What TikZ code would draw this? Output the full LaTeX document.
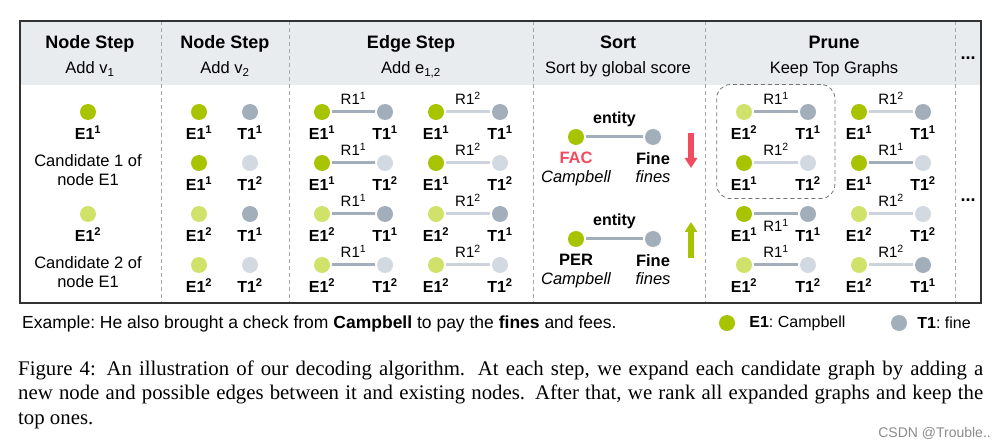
\documentclass[tikz,border=0pt]{standalone}
\usepackage{fontspec}
\setmainfont{Liberation Sans}
\newfontfamily\capfont{Liberation Serif}
\usepackage{xcolor}
\usetikzlibrary{arrows.meta,positioning,fit}

\definecolor{egreen}{HTML}{A8C300}
\definecolor{lgreen}{HTML}{D1E26B}
\definecolor{tgray}{HTML}{A3AEBB}
\definecolor{lgray}{HTML}{D3D9E1}
\definecolor{ledge}{HTML}{CDD3DC}
\definecolor{headfill}{HTML}{E9ECEF}
\definecolor{facred}{HTML}{F24A5F}

\begin{document}
\begin{tikzpicture}[
  x=1pt, y=-1pt,
  node distance=7pt,
  dot/.style={circle, inner sep=0pt, minimum size=16pt},
  ent1/.style={dot, fill=egreen},
  ent2/.style={dot, fill=lgreen},
  tgt1/.style={dot, fill=tgray},
  tgt2/.style={dot, fill=lgray},
  lab/.style={font=\bfseries\fontsize{16}{16}\selectfont, inner sep=0pt,
              text height=12pt, text depth=0pt},
  rel/.style={font=\fontsize{15}{15}\selectfont, inner sep=0pt,
              text height=11pt, text depth=0pt},
  edge1/.style={draw=tgray, line width=3pt, shorten <=2pt, shorten >=2pt},
  edge2/.style={draw=ledge, line width=3pt, shorten <=2pt, shorten >=2pt},
  title/.style={font=\bfseries\fontsize{18}{18}\selectfont, anchor=base},
  subtitle/.style={font=\fontsize{16.5}{16.5}\selectfont, anchor=base},
  cand/.style={font=\fontsize{16.5}{19}\selectfont, align=center, inner sep=0pt},
  sortlab/.style={font=\bfseries\fontsize{16.5}{18.5}\selectfont, align=center, inner sep=0pt},
  divider/.style={draw=black!35, line width=0.8pt, dash pattern=on 4pt off 3pt},
  bigarrow/.style={line width=5.5pt, -{Triangle[width=12pt, length=10pt]}},
  plain/.style={font=\frenchspacing\fontsize{16}{16}\selectfont, inner sep=0pt},
  caption/.style={font=\capfont\fontsize{20.8}{24.5}\selectfont, text width=965pt,
                  align=justify, inner sep=0pt},
]
\fill[white] (0,0) rectangle (1006,446);
\useasboundingbox (0,0) rectangle (1006,446);

% table frame and header band
\fill[headfill] (20,21) rectangle (981,85);
\foreach \x in {161,289,533,705,955}
  \draw[divider] (\x,21) -- (\x,303);
\draw[black!80, line width=1.4pt] (20,21) rectangle (981,303);

% headers
\node[title] (h1) at (90,48.5) {Node Step};
\node[subtitle] (s1) at (90,74) {Add v\textsubscript{1}};
\node[title] (h2) at (225,48.5) {Node Step};
\node[subtitle] (s2) at (225,74) {Add v\textsubscript{2}};
\node[title] (h3) at (411,48.5) {Edge Step};
\node[subtitle] (s3) at (411,74) {Add e\textsubscript{1,2}};
\node[title] (h4) at (618,48.5) {Sort};
\node[subtitle] (s4) at (618,74) {Sort by global score};
\node[title] (h5) at (834,48.5) {Prune};
\node[subtitle] (s5) at (834,74) {Keep Top Graphs};
\node[title] (h6) at (968,60) {...};

% column 1: add v1
\node[ent1] (a1) at (88,112) {};
\node[lab, below=of a1] (a1-l) {E1\textsuperscript{1}};
\node[cand, below=15pt of a1-l] (a1-c) {Candidate 1 of\\node E1};
\node[ent2] (a2) at (88,214) {};
\node[lab, below=of a2] (a2-l) {E1\textsuperscript{2}};
\node[cand, below=15pt of a2-l] (a2-c) {Candidate 2 of\\node E1};

% column 2: add v2
\foreach \r/\y/\es/\en/\ts/\tn in {1/112/ent1/1/tgt1/1, 2/163/ent1/1/tgt2/2,
                                   3/214/ent2/2/tgt1/1, 4/265/ent2/2/tgt2/2} {
  \node[\es] (b\r-e) at (199,\y) {};
  \node[lab, below=of b\r-e] (b\r-el) {E1\textsuperscript{\en}};
  \node[\ts] (b\r-t) at (250,\y) {};
  \node[lab, below=of b\r-t] (b\r-tl) {T1\textsuperscript{\tn}};
}

% column 3 (edge step) and column 5 (prune): small graphs
\foreach \g/\xe/\xt/\y/\es/\en/\ts/\tn/\ed/\rn/\pos in {
    c1/322/385/112/ent1/1/tgt1/1/edge1/1/above, d1/436/500/112/ent1/1/tgt1/1/edge2/2/above,
    c2/322/385/163/ent1/1/tgt2/2/edge1/1/above, d2/436/500/163/ent1/1/tgt2/2/edge2/2/above,
    c3/322/385/214/ent2/2/tgt1/1/edge1/1/above, d3/436/500/214/ent2/2/tgt1/1/edge2/2/above,
    c4/322/385/265/ent2/2/tgt2/2/edge1/1/above, d4/436/500/265/ent2/2/tgt2/2/edge2/2/above,
    p1/744/808/112/ent2/2/tgt1/1/edge1/1/above, q1/859/923/112/ent1/1/tgt1/1/edge2/2/above,
    p2/744/808/163/ent1/1/tgt2/2/edge2/2/above, q2/859/923/163/ent1/1/tgt2/2/edge1/1/above,
    p3/744/808/214/ent1/1/tgt1/1/edge1/1/below, q3/859/923/214/ent2/2/tgt2/2/edge2/2/above,
    p4/744/808/265/ent2/2/tgt2/2/edge1/1/above, q4/859/923/265/ent2/2/tgt1/1/edge2/2/above} {
  \node[\es] (\g-e) at (\xe,\y) {};
  \node[\ts] (\g-t) at (\xt,\y) {};
  \node[lab, below=of \g-e] (\g-el) {E1\textsuperscript{\en}};
  \node[lab, below=of \g-t] (\g-tl) {T1\textsuperscript{\tn}};
  \draw[\ed] (\g-e) -- (\g-t)
    node[rel, midway, \pos=5.5pt] (\g-r) {R1\textsuperscript{\rn}};
}

% kept graphs
\node[draw=black!55, line width=0.8pt, dash pattern=on 4pt off 3pt,
      rounded corners=14pt, inner xsep=14pt, inner ysep=8pt,
      fit=(p1-r)(p1-el)(p2-tl)] (keep) {};
\node[title] (h7) at (968,202) {...};

% column 4: sort
\node[ent1] (s1-e) at (576,137) {};
\node[tgt1] (s1-t) at (653,137) {};
\draw[edge1] (s1-e) -- (s1-t)
  node[lab, midway, above=12pt] (s1-r) {entity};
\node[sortlab, below=7pt of s1-e] (s1-el) {\textcolor{facred}{FAC}\\{\mdseries\itshape Campbell}};
\node[sortlab, below=7pt of s1-t] (s1-tl) {Fine\\{\mdseries\itshape fines}};
\node[ent1] (s2-e) at (576,239) {};
\node[tgt1] (s2-t) at (653,239) {};
\draw[edge1] (s2-e) -- (s2-t)
  node[lab, midway, above=12pt] (s2-r) {entity};
\node[sortlab, below=7pt of s2-e] (s2-el) {PER\\{\mdseries\itshape Campbell}};
\node[sortlab, below=7pt of s2-t] (s2-tl) {Fine\\{\mdseries\itshape fines}};
\coordinate (dn-a) at (691,133);
\coordinate (dn-b) at (691,168);
\coordinate (up-a) at (691,258);
\coordinate (up-b) at (691,222);
\draw[bigarrow, draw=facred, fill=facred] (dn-a) -- (dn-b);
\draw[bigarrow, draw=egreen, fill=egreen] (up-a) -- (up-b);

% example sentence and legend
\node[plain, font=\frenchspacing\fontsize{17.5}{17.5}\selectfont, anchor=base west] (ex) at (22,328)
  {Example: He also brought a check from \textbf{Campbell} to pay the \textbf{fines} and fees.};
\node[ent1] (lg-e) at (727,323) {};
\node[plain, right=14pt of lg-e] (lg-el) {\textbf{E1}: Campbell};
\node[tgt1] (lg-t) at (899,323) {};
\node[plain, right=10pt of lg-t] (lg-tl) {\textbf{T1}: fine};

% caption
\node[caption, anchor=base west] (cap) at (18,375)
  {Figure 4: An illustration of our decoding algorithm. At each step, we expand each candidate graph by adding a\linebreak
   new node and possible edges between it and existing nodes. After that, we rank all expanded graphs and keep the\linebreak
   top ones.};
\node[font=\fontsize{14}{14}\selectfont, text=black!45, anchor=base east, inner sep=0pt] (wm)
  at (991,437) {CSDN @Trouble..};
\end{tikzpicture}
\end{document}
